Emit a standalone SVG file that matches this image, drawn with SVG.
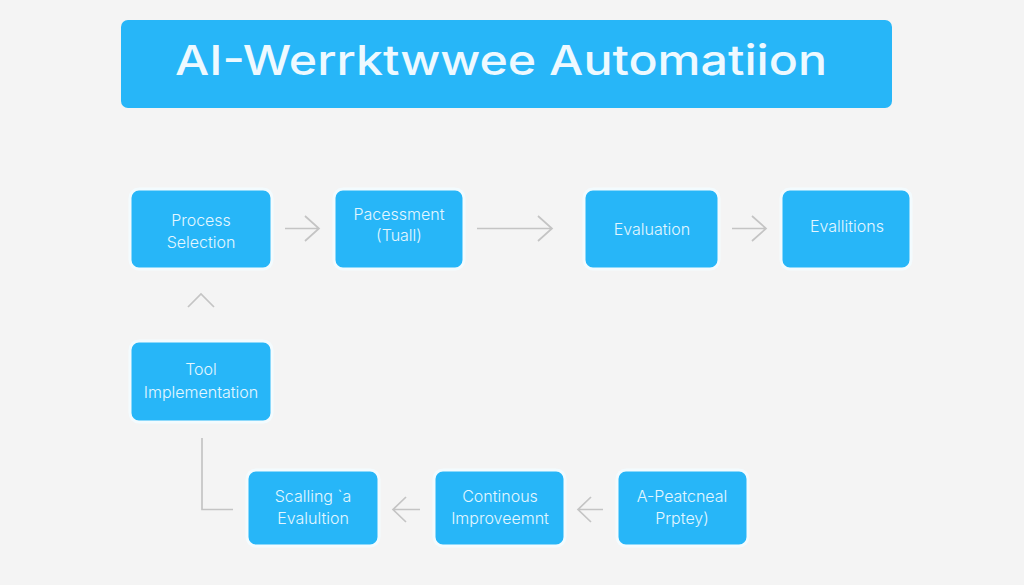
<svg xmlns="http://www.w3.org/2000/svg" width="1024" height="585" viewBox="0 0 1024 585">
<style>
.n{fill:#27b6f8;stroke:#f3fbfe;stroke-width:3}
.t{font-family:Inter,"Liberation Sans",sans-serif;font-size:16px;font-weight:300;fill:#e3f6ff;text-anchor:middle}
.c{fill:none;stroke:#c4c4c4;stroke-width:1.7}
</style>
<rect width="1024" height="585" fill="#f4f4f4"/>
<g id="title"><rect x="121" y="20" width="771" height="88" rx="7" fill="#27b6f8"/>
<text x="501" y="75" font-family="Inter,'Liberation Sans',sans-serif" font-size="41" font-weight="550" fill="#eef9ff" text-anchor="middle" textLength="652" lengthAdjust="spacingAndGlyphs">AI-Werrktwwee Automatiion</text></g>
<g id="connectors">
<path class="c" d="M285 228.500H319M305 216L319 228.500L305 241"/>
<path class="c" d="M477 228.500H552M538 216L552 228.500L538 241"/>
<path class="c" d="M732 228.500H766M752 216L766 228.500L752 241"/>
<path class="c" d="M188 307L201 294L214 307"/>
<path class="c" d="M202 438V509.500H233"/>
<path class="c" d="M420 509.500H393M406 497L393 509.500L406 522"/>
<path class="c" d="M603 509.500H578M591 497L578 509.500L591 522"/>
</g>
<g id="n1"><rect class="n" x="130" y="189" width="142" height="80" rx="9"/><text class="t" x="201" y="226">Process</text><text class="t" x="201" y="248">Selection</text></g>
<g id="n2"><rect class="n" x="334" y="189" width="130" height="80" rx="9"/><text class="t" x="399" y="220">Pacessment</text><text class="t" x="399" y="241">(Tuall)</text></g>
<g id="n3"><rect class="n" x="584" y="189" width="135" height="80" rx="9"/><text class="t" x="652" y="235">Evaluation</text></g>
<g id="n4"><rect class="n" x="781" y="189" width="130" height="80" rx="9"/><text class="t" x="847" y="232">Evallitions</text></g>
<g id="n5"><rect class="n" x="130" y="341" width="142" height="81" rx="9"/><text class="t" x="201" y="375">Tool</text><text class="t" x="201" y="398">Implementation</text></g>
<g id="n6"><rect class="n" x="247" y="470" width="132" height="76" rx="9"/><text class="t" x="313" y="502">Scalling `a</text><text class="t" x="313" y="524">Evalultion</text></g>
<g id="n7"><rect class="n" x="434" y="470" width="131" height="76" rx="9"/><text class="t" x="500" y="502">Continous</text><text class="t" x="500" y="524">Improveemnt</text></g>
<g id="n8"><rect class="n" x="617" y="470" width="131" height="76" rx="9"/><text class="t" x="682" y="502">A-Peatcneal</text><text class="t" x="682" y="524">Prptey)</text></g>
</svg>
